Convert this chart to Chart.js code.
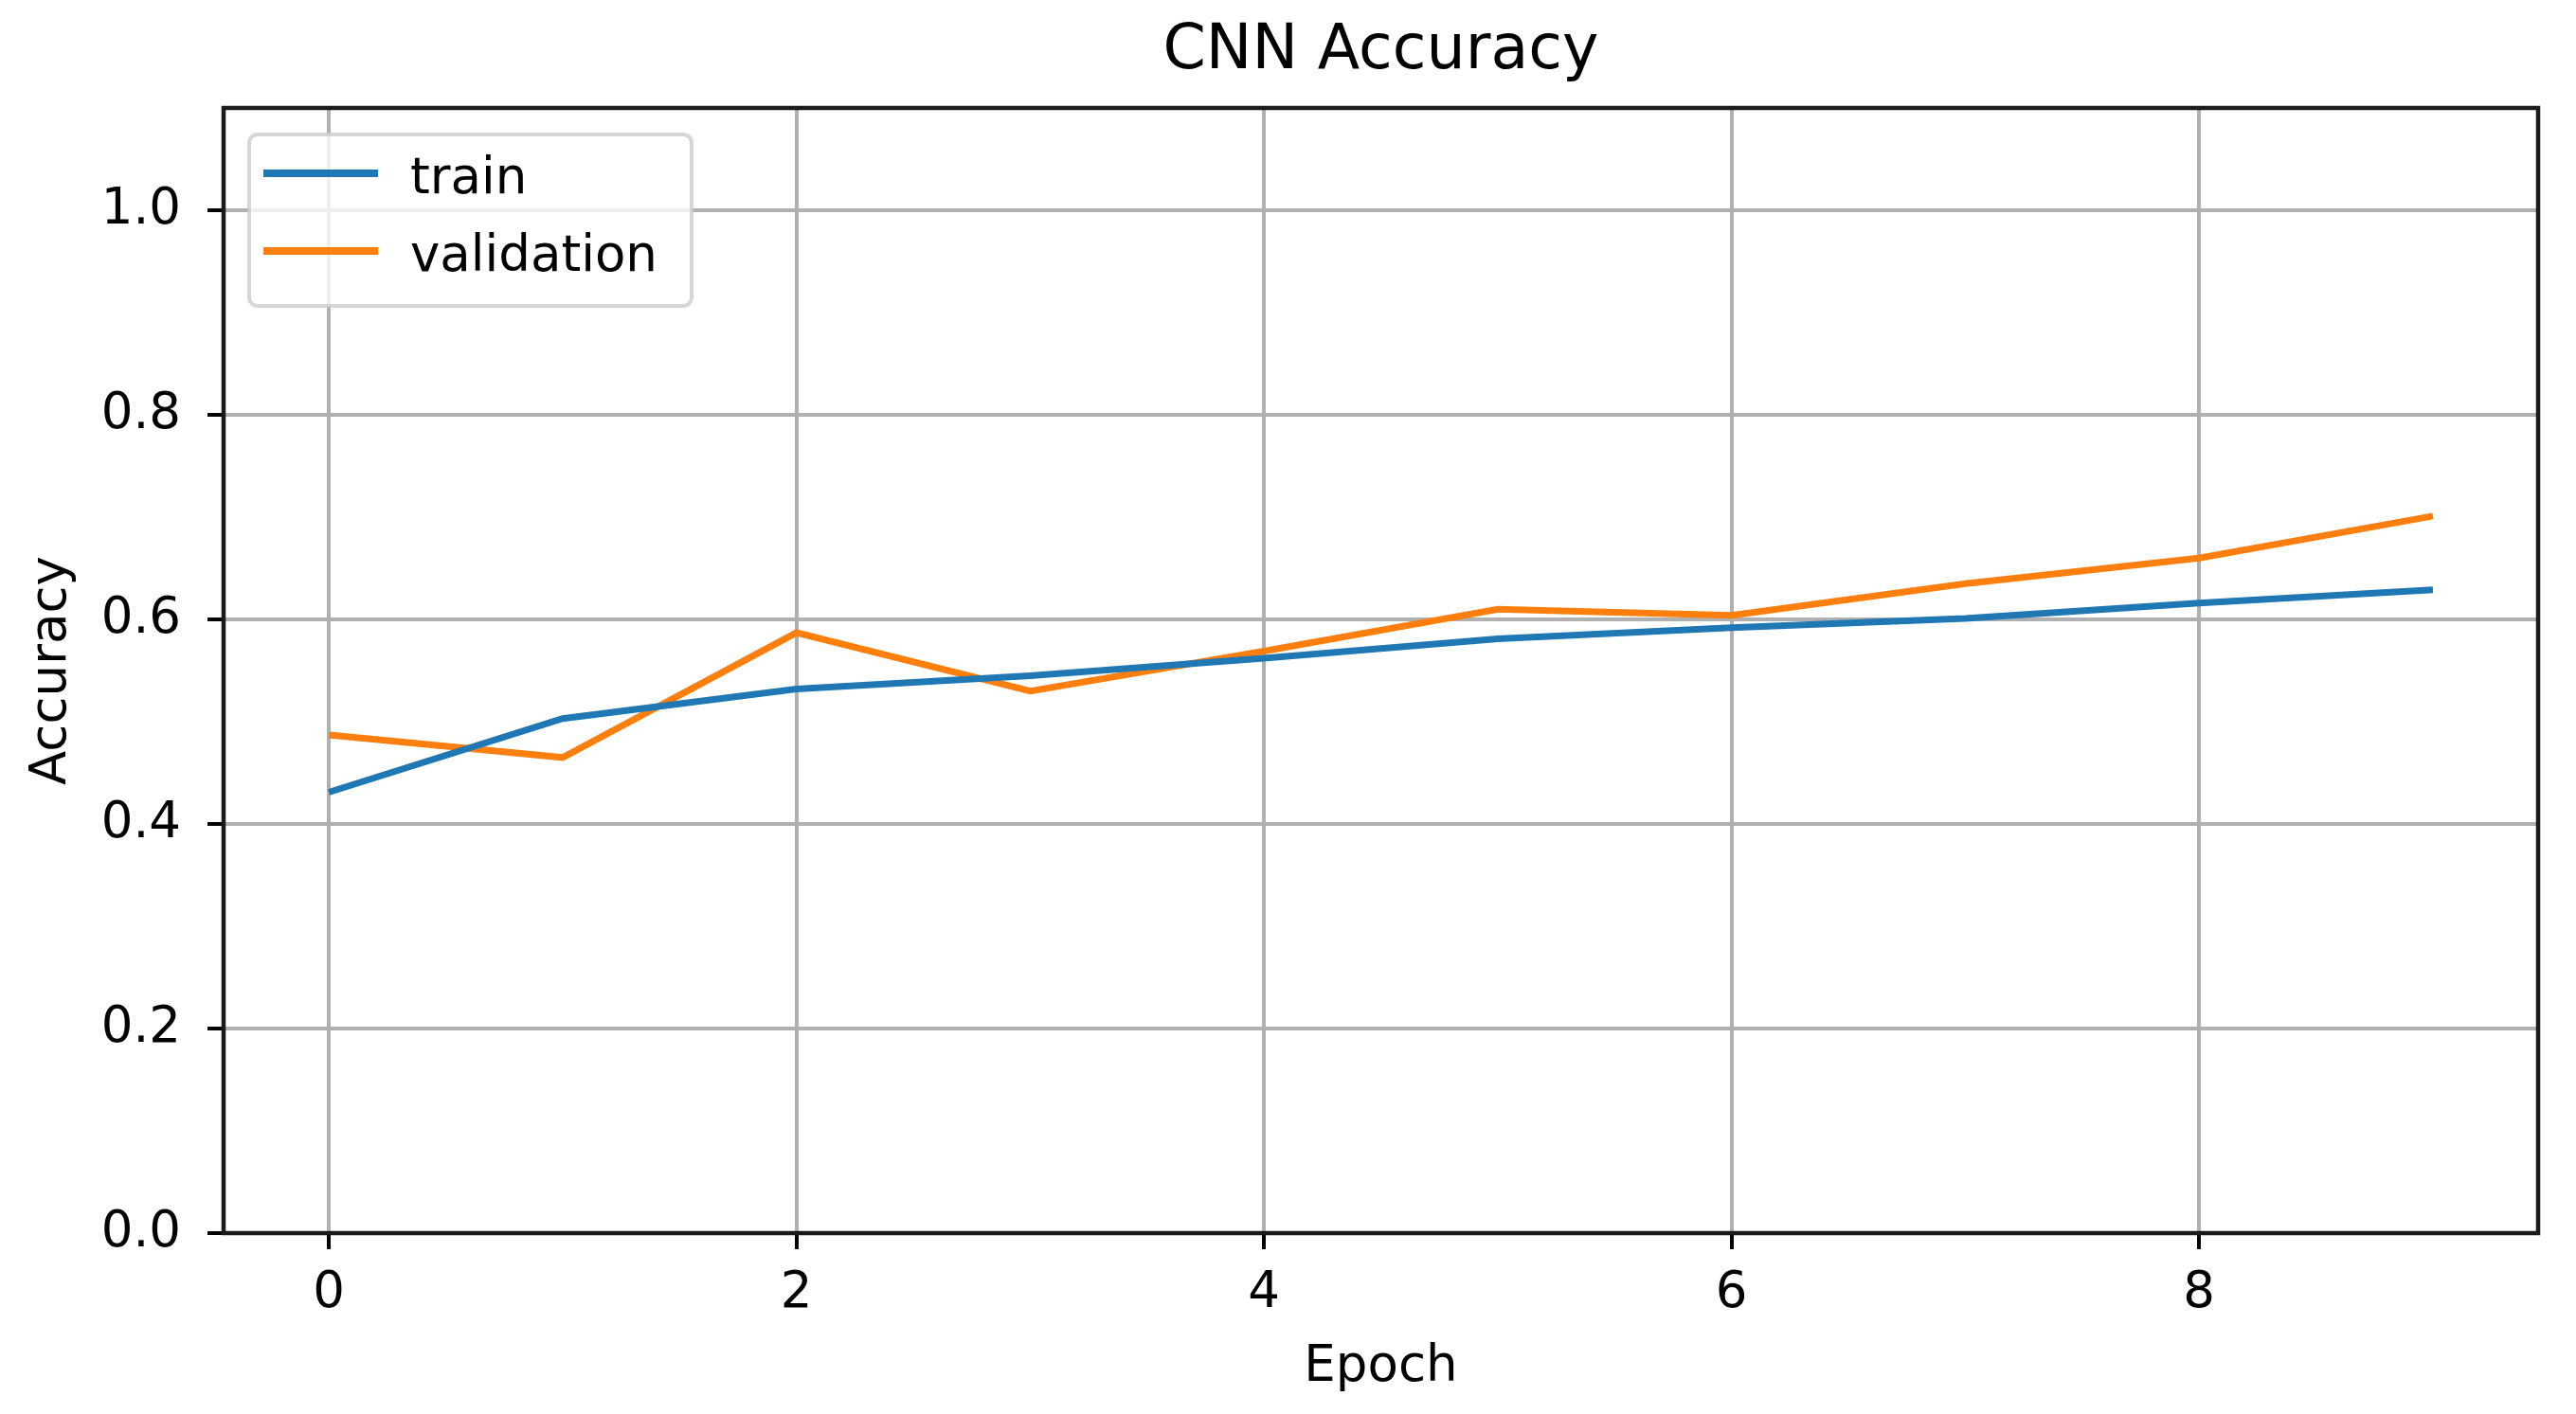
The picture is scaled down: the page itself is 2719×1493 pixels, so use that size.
<!DOCTYPE html>
<html>
<head>
<meta charset="utf-8">
<title>CNN Accuracy</title>
<script src="https://cdn.jsdelivr.net/npm/chart.js@4.4.1/dist/chart.umd.min.js"></script>
<style>
    body { margin: 0; background: #fff; }
    #wrap { width: 2719px; height: 1493px; }
</style>
</head>
<body>
<div id="wrap"><canvas id="acc-chart" width="2719" height="1493"></canvas></div>
<script>
// values
var epochs = [0, 1, 2, 3, 4, 5, 6, 7, 8, 9];
var trainAcc = [0.431, 0.503, 0.532, 0.545, 0.562, 0.581, 0.592, 0.601, 0.616, 0.629];
var valAcc = [0.487, 0.465, 0.587, 0.530, 0.569, 0.610, 0.604, 0.635, 0.660, 0.701];
var xTickValues = [0, 2, 4, 6, 8];
var yTickValues = [0.0, 0.2, 0.4, 0.6, 0.8, 1.0];
var chartTitle = 'CNN Accuracy';

var FONT = '"DejaVu Sans", "Liberation Sans", sans-serif';
var gridColor = '#b0b0b0';
var spineColor = '#1a1a1a';

function toPoints(values) {
    return epochs.map(function(e, i) { return {x: e, y: values[i]}; });
}

// box around the plot area (matplotlib spines)
const frame = {
    id: 'frame',
    afterDatasetsDraw(chart) {
        var a = chart.chartArea;
        var ctx = chart.ctx;
        ctx.save();
        ctx.lineWidth = 4.5;
        ctx.strokeStyle = spineColor;
        ctx.strokeRect(a.left, a.top, a.right - a.left, a.bottom - a.top);
        ctx.restore();
    }
};

// title centred over the plot area, not the whole canvas
const axesTitle = {
    id: 'axesTitle',
    afterDraw(chart) {
        var a = chart.chartArea;
        var ctx = chart.ctx;
        ctx.save();
        ctx.fillStyle = '#000';
        ctx.font = '65px ' + FONT;
        ctx.textAlign = 'center';
        ctx.textBaseline = 'middle';
        ctx.fillText(chartTitle, (a.left + a.right) / 2, 55);
        ctx.restore();
    }
};

// legend inside the upper left corner
const legendBox = {
    id: 'legendBox',
    afterDraw(chart) {
        var a = chart.chartArea;
        var ctx = chart.ctx;
        var x = a.left + 27, y = a.top + 28, w = 467, h = 181;
        ctx.save();
        ctx.beginPath();
        ctx.roundRect(x, y, w, h, 9);
        ctx.fillStyle = 'rgba(255,255,255,0.8)';
        ctx.fill();
        ctx.lineWidth = 4;
        ctx.strokeStyle = 'rgba(204,204,204,0.8)';
        ctx.stroke();
        chart.data.datasets.forEach(function(ds, i) {
            var cy = y + 41 + i * 82;
            ctx.beginPath();
            ctx.moveTo(x + 15, cy);
            ctx.lineTo(x + 136, cy);
            ctx.lineWidth = 8;
            ctx.strokeStyle = ds.borderColor;
            ctx.stroke();
            ctx.fillStyle = '#000';
            ctx.font = '53px ' + FONT;
            ctx.textBaseline = 'alphabetic';
            ctx.textAlign = 'left';
            ctx.fillText(ds.label, x + 170, y + 62 + i * 82);
        });
        ctx.restore();
    }
};

new Chart(document.getElementById('acc-chart'), {
    type: 'line',
    data: {
        datasets: [
            {
                label: 'train',
                data: toPoints(trainAcc),
                borderColor: '#1f77b4',
                borderWidth: 7,
                pointRadius: 0,
                tension: 0,
                fill: false
            },
            {
                label: 'validation',
                data: toPoints(valAcc),
                borderColor: '#ff7f0e',
                borderWidth: 7,
                pointRadius: 0,
                tension: 0,
                fill: false
            }
        ]
    },
    options: {
        responsive: false,
        devicePixelRatio: 1,
        animation: false,
        layout: { padding: { left: 0, right: 40, top: 114, bottom: 0 } },
        plugins: {
            legend: { display: false },
            tooltip: { enabled: false },
            title: { display: false }
        },
        scales: {
            x: {
                type: 'linear',
                min: -0.45,
                max: 9.45,
                afterBuildTicks: function(axis) {
                    axis.ticks = xTickValues.map(function(v) { return {value: v}; });
                },
                afterFit: function(axis) { axis.height = 191; },
                ticks: {
                    color: '#000',
                    font: { family: FONT, size: 53 },
                    padding: 15,
                    maxRotation: 0,
                    callback: function(v) { return String(v); }
                },
                grid: {
                    color: gridColor,
                    lineWidth: 4,
                    tickColor: '#000',
                    tickWidth: 4,
                    tickLength: 17
                },
                border: { display: false },
                title: {
                    display: true,
                    text: 'Epoch',
                    color: '#000',
                    font: { family: FONT, size: 53 },
                    padding: { top: 0, bottom: 17 }
                }
            },
            y: {
                type: 'linear',
                min: 0,
                max: 1.1,
                afterBuildTicks: function(axis) {
                    axis.ticks = yTickValues.map(function(v) { return {value: v}; });
                },
                afterFit: function(axis) { axis.width = 236; },
                ticks: {
                    color: '#000',
                    font: { family: FONT, size: 53 },
                    padding: 28,
                    callback: function(v) { return v.toFixed(1); }
                },
                grid: {
                    color: gridColor,
                    lineWidth: 4,
                    tickColor: '#000',
                    tickWidth: 4,
                    tickLength: 17
                },
                border: { display: false },
                title: {
                    display: true,
                    text: 'Accuracy',
                    color: '#000',
                    font: { family: FONT, size: 53 },
                    padding: { top: 23, bottom: 0 }
                }
            }
        }
    },
    plugins: [frame, axesTitle, legendBox]
});
</script>
</body>
</html>
